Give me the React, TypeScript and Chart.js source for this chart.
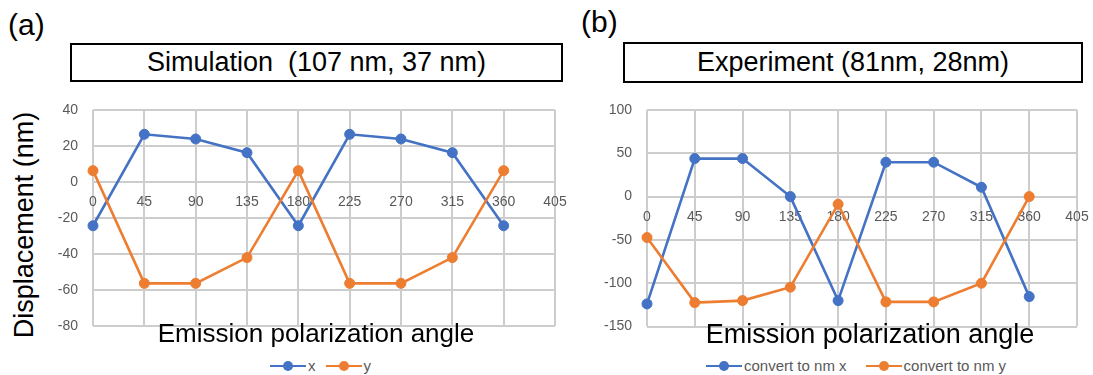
import React, { useEffect, useRef } from 'react';
import { Chart, registerables } from 'chart.js';
Chart.register(...registerables);

// ---- data ----
const angles = [0, 45, 90, 135, 180, 225, 270, 315, 360];
const simX = [-24.3, 26.5, 23.9, 16.3, -24.3, 26.5, 23.9, 16.3, -24.3];
const simY = [6.3, -56.3, -56.3, -42, 6.3, -56.3, -56.3, -42, 6.3];
const expX = [-123.9, 43.9, 43.9, 0, -120.1, 39.7, 39.7, 10.8, -115.5];
const expY = [-47.3, -122.4, -120.1, -104.6, -8.8, -121.6, -121.6, -100, 0];
const simNames = ['x', 'y'];
const expNames = ['convert to nm x', 'convert to nm y'];
const panelTitles = ['Simulation  (107 nm, 37 nm)', 'Experiment (81nm, 28nm)'];
const panelLetters = ['(a)', '(b)'];
const xAxisTitle = 'Emission polarization angle';
const yAxisTitle = 'Displacement (nm)';
const xMin = 0;
const xMax = 405;
const xStep = 45;
const simYRange = [-80, 40, 20];
const expYRange = [-150, 100, 50];

const BLUE = '#4472C4';
const ORANGE = '#ED7D31';
const GRID = '#cdcdcd';
const TICK = '#595959';
const FONT = '"Liberation Sans", Arial, sans-serif';

function makeConfig(xs: number[], ys: number[], names: string[], yr: number[], yAxisWidth: number, padRight: number, padBottom: number): any {
  const mk = (vals: number[], label: string, color: string, order: number) => ({
    label,
    data: angles.map((a, i) => ({ x: a, y: vals[i] })),
    borderColor: color,
    backgroundColor: color,
    pointBackgroundColor: color,
    pointBorderColor: color,
    borderWidth: 2.6,
    pointRadius: 5,
    pointBorderWidth: 1,
    tension: 0,
    clip: false,
    order,
  });
  return {
    type: 'line',
    data: { datasets: [mk(xs, names[0], BLUE, 1), mk(ys, names[1], ORANGE, 0)] },
    options: {
      responsive: false,
      animation: false,
      devicePixelRatio: 1,
      layout: { padding: { left: 0, right: padRight, top: 15, bottom: padBottom } },
      plugins: { legend: { display: false }, tooltip: { enabled: false }, title: { display: false } },
      scales: {
        x: {
          type: 'linear',
          position: { y: 0 },
          min: xMin,
          max: xMax,
          ticks: { stepSize: xStep, autoSkip: false, maxRotation: 0, padding: 12, color: TICK, font: { family: FONT, size: 14 } },
          grid: { color: GRID, lineWidth: 2, drawTicks: false },
          border: { display: false },
          afterFit: (s: any) => { s.height = 0; s.paddingLeft = 0; s.paddingRight = 0; },
        },
        y: {
          type: 'linear',
          min: yr[0],
          max: yr[1],
          ticks: { stepSize: yr[2], padding: 15, color: TICK, font: { family: FONT, size: 14 } },
          grid: { color: GRID, lineWidth: 2, drawTicks: false },
          border: { display: false },
          afterFit: (s: any) => { s.width = yAxisWidth; s.paddingTop = 0; s.paddingBottom = 0; },
        },
      },
    },
  };
}

function LegendItem({ color, label, gap }: { color: string; label: string; gap: number }) {
  return (
    <span style={{ display: 'inline-flex', alignItems: 'center', marginRight: gap }}>
      <span style={{ position: 'relative', display: 'inline-block', width: 36, height: 12 }}>
        <span style={{ position: 'absolute', left: 0, right: 0, top: 4.7, height: 2.6, background: color }} />
        <span style={{ position: 'absolute', left: 13, top: 1, width: 10, height: 10, borderRadius: '50%', background: color }} />
      </span>
      <span style={{ marginLeft: 2, fontSize: 15, color: TICK, fontFamily: FONT, lineHeight: '18px' }}>{label}</span>
    </span>
  );
}

export default function App() {
  const refA = useRef<HTMLCanvasElement>(null);
  const refB = useRef<HTMLCanvasElement>(null);

  useEffect(() => {
    const a = new Chart(refA.current!, makeConfig(simX, simY, simNames, simYRange, 93, 20, 9));
    const b = new Chart(refB.current!, makeConfig(expX, expY, expNames, expYRange, 82, 16, 8.5));
    return () => { a.destroy(); b.destroy(); };
  }, []);

  const textBase: React.CSSProperties = { position: 'absolute', fontFamily: FONT, color: '#000', whiteSpace: 'pre' };

  return (
    <div style={{ position: 'fixed', left: 0, top: 0, width: 1093, height: 375, background: '#fff', overflow: 'hidden' }}>
      {/* panel letters */}
      <div style={{ ...textBase, left: 8, top: 10, fontSize: 30, lineHeight: '30px' }}>{panelLetters[0]}</div>
      <div style={{ ...textBase, left: 581, top: 6.5, fontSize: 30, lineHeight: '30px' }}>{panelLetters[1]}</div>

      {/* title boxes */}
      <div style={{ position: 'absolute', left: 70, top: 43, width: 493, height: 39, boxSizing: 'border-box', border: '2px solid #000', display: 'flex', alignItems: 'center', justifyContent: 'center' }}>
        <span style={{ fontFamily: FONT, fontSize: 27, whiteSpace: 'pre', lineHeight: '27px' }}>{panelTitles[0]}</span>
      </div>
      <div style={{ position: 'absolute', left: 623, top: 42, width: 460, height: 41, boxSizing: 'border-box', border: '2px solid #000', display: 'flex', alignItems: 'center', justifyContent: 'center' }}>
        <span style={{ fontFamily: FONT, fontSize: 27, whiteSpace: 'pre', lineHeight: '27px' }}>{panelTitles[1]}</span>
      </div>

      {/* y axis title */}
      <div style={{ ...textBase, left: 24, top: 225, fontSize: 27, lineHeight: '27px', transform: 'translate(-50%, -50%) rotate(-90deg)' }}>{yAxisTitle}</div>

      {/* canvases */}
      <canvas ref={refA} width={575} height={240} style={{ position: 'absolute', left: 0, top: 95, width: 575, height: 240 }} />
      <canvas ref={refB} width={528} height={240} style={{ position: 'absolute', left: 565, top: 95, width: 528, height: 240 }} />

      {/* x axis titles */}
      <div style={{ ...textBase, left: 316, top: 320, fontSize: 26, lineHeight: '26px', transform: 'translateX(-50%)' }}>{xAxisTitle}</div>
      <div style={{ ...textBase, left: 870, top: 321, fontSize: 27, lineHeight: '27px', transform: 'translateX(-50%)' }}>{xAxisTitle}</div>

      {/* legends */}
      <div style={{ position: 'absolute', left: 270, top: 357, height: 18, display: 'flex', alignItems: 'center' }}>
        <LegendItem color={BLUE} label={simNames[0]} gap={10} />
        <LegendItem color={ORANGE} label={simNames[1]} gap={0} />
      </div>
      <div style={{ position: 'absolute', left: 706, top: 357, height: 18, display: 'flex', alignItems: 'center' }}>
        <LegendItem color={BLUE} label={expNames[0]} gap={19} />
        <LegendItem color={ORANGE} label={expNames[1]} gap={0} />
      </div>
    </div>
  );
}
